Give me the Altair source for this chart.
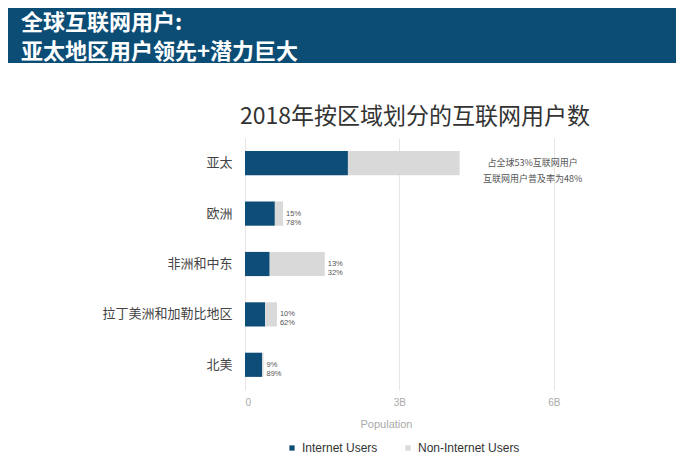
import altair as alt
import pandas as pd

# ---- data (billions of people) ----
regions = ["亚太", "欧洲", "非洲和中东", "拉丁美洲和加勒比地区", "北美"]
internet_users = [2.00, 0.58, 0.48, 0.39, 0.33]
population = [4.17, 0.74, 1.55, 0.62, 0.36]
share_of_global = ["53%", "15%", "13%", "10%", "9%"]
penetration = ["48%", "78%", "32%", "62%", "89%"]
series = ["Internet Users", "Non-Internet Users"]
x_ticks = [0, 3, 6]

header_lines = ["全球互联网用户:", "亚太地区用户领先+潜力巨大"]
chart_title = "2018年按区域划分的互联网用户数"

BLUE = "#0e4d77"
GRAY = "#d9d9d9"
CJK = "Noto Sans CJK SC"
LAT = "Liberation Sans"

rows = []
for r, iu, pop in zip(regions, internet_users, population):
    rows.append({"region": r, "type": series[0], "value": iu, "order": 0})
    rows.append({"region": r, "type": series[1], "value": round(pop - iu, 3), "order": 1})
bars_df = pd.DataFrame(rows)

lab_rows = []
for i, (r, pop, s, p) in enumerate(zip(regions, population, share_of_global, penetration)):
    if i == 0:
        txt = f"占全球{s}互联网用户\n互联网用户普及率为{p}"
    else:
        txt = f"{s}\n{p}"
    lab_rows.append({"region": r, "total": pop, "label": txt, "main": i == 0})
lab_df = pd.DataFrame(lab_rows)

W, H = 386, 252
PL, PT = 237, 130
CW, CH = 668, 452

y_enc = alt.Y("region:N", sort=regions, title=None,
              scale=alt.Scale(paddingInner=0.52, paddingOuter=0.26),
              axis=alt.Axis(ticks=False, domain=False, labelPadding=13,
                            labelFontSize=13, labelColor="#444", labelFont=CJK,
                            labelLimit=200))
x_scale = alt.Scale(domain=[0, 7.5], nice=False)

bars = alt.Chart(bars_df).mark_bar().encode(
    x=alt.X("value:Q", stack="zero", scale=x_scale, title="Population",
            axis=alt.Axis(values=x_ticks, grid=True, gridColor="#e6e6e6",
                          ticks=False, domain=False,
                          labelExpr="datum.value == 0 ? '0' : datum.value + 'B'",
                          labelColor="#aaaaaa", labelFontSize=10, labelFont=LAT,
                          labelPadding=7, titleColor="#aaaaaa", titleFontSize=11,
                          titleFont=LAT, titleFontWeight="normal",
                          titleX=141, titleY=34, titleBaseline="middle")),
    y=y_enc,
    color=alt.Color("type:N", sort=series,
                    scale=alt.Scale(domain=series, range=[BLUE, GRAY]),
                    legend=alt.Legend(title=None, orient="none", direction="horizontal",
                                      legendX=41, legendY=304, symbolType="square",
                                      symbolSize=28, labelFontSize=12, labelFont=LAT,
                                      labelColor="#333", columnPadding=24,
                                      labelOffset=4)),
    order=alt.Order("order:Q"),
)

small_labels = alt.Chart(lab_df).transform_filter("!datum.main").mark_text(
    align="left", baseline="middle", dx=3, fontSize=7.5, lineHeight=9,
    lineBreak="\n", color="#555", font=LAT
).encode(x=alt.X("total:Q", scale=x_scale), y=alt.Y("region:N", sort=regions), text="label:N")

main_label = alt.Chart(lab_df).transform_filter("datum.main").mark_text(
    align="center", baseline="middle", dx=73, fontSize=9, lineHeight=16,
    lineBreak="\n", color="#555", font=CJK
).encode(x=alt.X("total:Q", scale=x_scale), y=alt.Y("region:N", sort=regions), text="label:N")

one = pd.DataFrame({"k": [0]})
header = alt.Chart(one).mark_rect(color="#0c4d76").encode(
    x=alt.value(-PL), x2=alt.value(CW - PL), y=alt.value(-PT), y2=alt.value(55 - PT))
header_line1 = alt.Chart(one).mark_text(
    text=header_lines[0], align="left", baseline="middle", fontSize=22, fontWeight="bold",
    color="white", font=CJK
).encode(x=alt.value(21 - 8 - PL), y=alt.value(23 - 8 - PT))
header_line2 = alt.Chart(one).mark_text(
    text=header_lines[1], align="left", baseline="middle", fontSize=22, fontWeight="bold",
    color="white", font=CJK
).encode(x=alt.value(21 - 8 - PL), y=alt.value(51.5 - 8 - PT))
title_text = alt.Chart(one).mark_text(
    text=chart_title, align="left", baseline="middle", fontSize=23, color="#333",
    font=CJK
).encode(x=alt.value(-5), y=alt.value(117 - 138))

chart = alt.layer(header, header_line1, header_line2, title_text, bars,
                  small_labels, main_label).properties(
    width=W, height=H,
    autosize=alt.AutoSizeParams(type="none"),
    padding={"left": PL, "top": PT, "right": CW - PL - W, "bottom": CH - PT - H},
).configure_view(strokeWidth=0)

chart.save("out.html", embed_options={"renderer": "svg", "actions": False})
